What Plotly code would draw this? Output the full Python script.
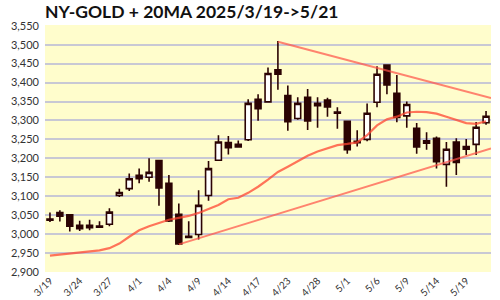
import plotly.graph_objects as go

dates = ["3/19","3/20","3/21","3/24","3/25","3/26","3/27","3/28","3/31",
         "4/1","4/2","4/3","4/4","4/7","4/8","4/9","4/10","4/11","4/14","4/15","4/16","4/17",
         "4/21","4/22","4/23","4/24","4/25","4/28","4/29","4/30",
         "5/1","5/2","5/5","5/6","5/7","5/8","5/9","5/12","5/13","5/14","5/15","5/16","5/19","5/20","5/21"]

opens  = [3040,3057,3051,3023,3017,3021,3026,3102,3120,3155,3150,3194,3134,3052,2994,2999,3102,3195,3242,3230,3249,3356,3349,3434,3366,3305,3361,3339,3354,3322,3298,3245,3250,3348,3446,3372,3312,3279,3240,3253,3184,3243,3224,3237,3294]
highs  = [3057,3063,3052,3035,3038,3034,3068,3120,3160,3173,3200,3196,3156,3081,3034,3116,3193,3261,3259,3247,3356,3369,3440,3510,3392,3361,3383,3361,3360,3335,3299,3274,3345,3443,3447,3420,3350,3293,3269,3258,3243,3253,3251,3296,3325]
lows   = [3032,3033,3007,3008,3010,3017,3021,3098,3114,3134,3138,3075,3032,2971,2990,2986,3088,3194,3210,3229,3246,3299,3347,3381,3273,3302,3275,3281,3310,3278,3212,3231,3245,3335,3369,3295,3281,3212,3223,3173,3125,3156,3209,3209,3289]
closes = [3037,3047,3021,3014,3023,3018,3058,3110,3146,3146,3163,3122,3035,2974,2991,3076,3173,3243,3228,3237,3345,3331,3424,3422,3297,3345,3299,3345,3336,3319,3223,3241,3319,3422,3394,3308,3342,3230,3246,3191,3224,3189,3231,3282,3311]
ma20   = [2943,2946,2949,2951,2954,2957,2963,2975,2993,3010,3021,3030,3038,3043,3048,3056,3066,3077,3092,3096,3109,3125,3144,3164,3178,3193,3207,3218,3226,3235,3238,3242,3261,3287,3303,3310,3321,3323,3322,3318,3310,3301,3293,3291,3298]

upper_x = [23, 44.5]
upper_y = [3508, 3359]
lower_x = [13, 44.5]
lower_y = [2973, 3226]

xs = list(range(len(dates)))
tick_idx = xs[::3]
tick_txt = [dates[i] for i in tick_idx]

DARK = "#2b0303"
fig = go.Figure()
fig.add_trace(go.Candlestick(
    x=xs, open=opens, high=highs, low=lows, close=closes,
    increasing=dict(fillcolor="white", line=dict(color=DARK, width=1.6)),
    decreasing=dict(fillcolor=DARK, line=dict(color=DARK, width=1.6)),
    whiskerwidth=0, showlegend=False))
fig.add_trace(go.Scatter(x=xs, y=ma20, mode="lines",
    line=dict(color="rgba(255,70,50,0.75)", width=2.2), showlegend=False))
fig.add_trace(go.Scatter(x=upper_x, y=upper_y, mode="lines",
    line=dict(color="rgba(255,80,70,0.7)", width=2), showlegend=False))
fig.add_trace(go.Scatter(x=lower_x, y=lower_y, mode="lines",
    line=dict(color="rgba(255,80,70,0.7)", width=2), showlegend=False))

fig.update_layout(
    width=500, height=300,
    margin=dict(l=45, r=9, t=25, b=28, autoexpand=False),
    paper_bgcolor="white", plot_bgcolor="#fffdcc",
    boxgap=0.15,
    title=dict(text="<b>NY-GOLD + 20MA 2025/3/19->5/21</b>", x=45/500, xanchor="left",
               xref="container", y=1-12/300, yanchor="middle", yref="container",
               font=dict(family="Lato", size=17.5, color="#111")),
    font=dict(family="Lato", size=11, color="#333"),
    xaxis=dict(range=[-0.5, 44.5], tickmode="array", tickvals=tick_idx, ticktext=tick_txt,
               tickangle=-45, showgrid=False, zeroline=False, showline=False,
               tickfont=dict(size=10),
               rangeslider=dict(visible=False), fixedrange=True, automargin=False,
               ticklabelstandoff=0),
    yaxis=dict(range=[2900, 3552], tickmode="linear", tick0=2900, dtick=50,
               tickformat=",", showgrid=True, gridcolor="#c8c8d4", gridwidth=1.5,
               zeroline=False, showline=False, automargin=False, ticklabelstandoff=5),
)
fig.write_html("out.html")
